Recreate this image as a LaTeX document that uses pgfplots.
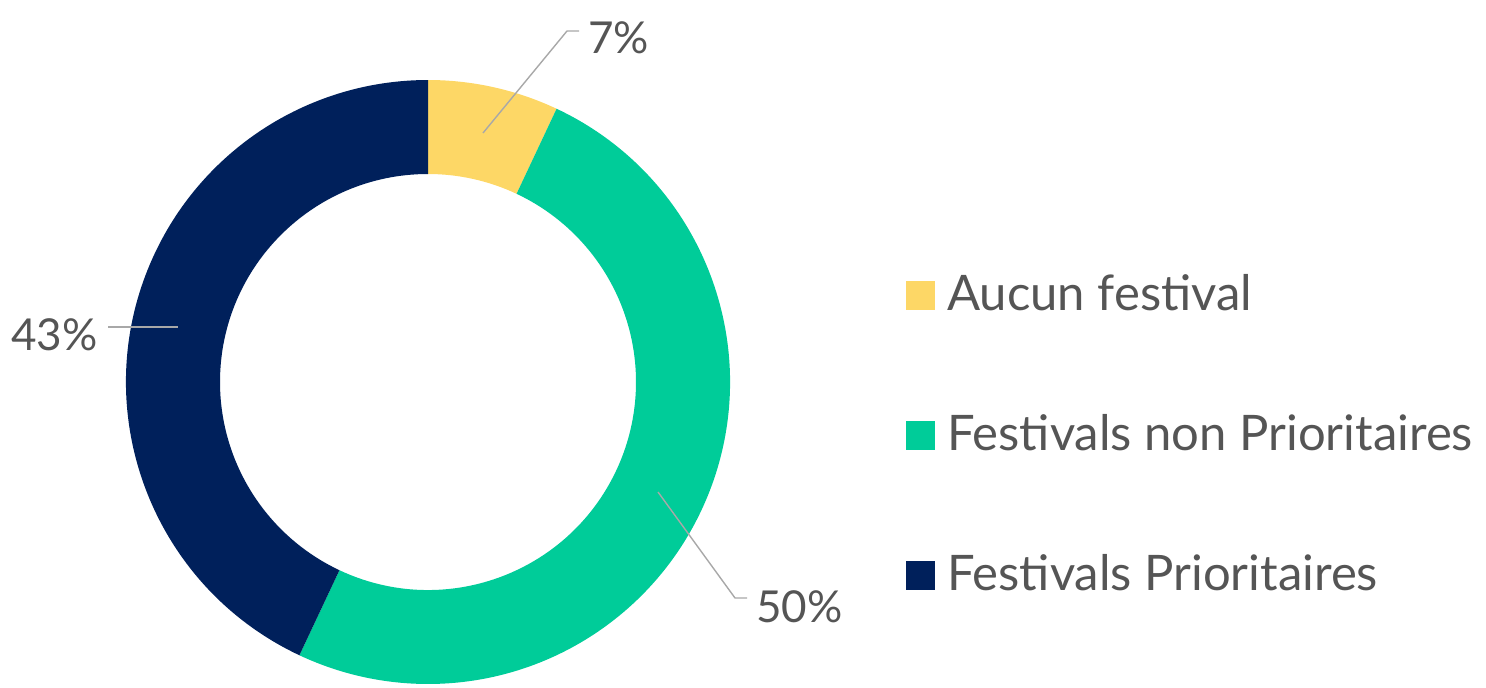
\documentclass[border=0pt]{standalone}
\usepackage{pgfplots}
\pgfplotsset{compat=1.18}
\usepackage{pgfplotstable}
\usepackage{fontspec}
\setmainfont{Lato}

\definecolor{cAucun}{HTML}{FDD766}
\definecolor{cNon}{HTML}{00CC99}
\definecolor{cPrio}{HTML}{00205B}
\definecolor{txt}{HTML}{555555}
\definecolor{lead}{HTML}{A8A8A8}

% shares in percent, clockwise from 12 o'clock
\pgfplotstableread{
share
7
50
43
}\shares

\begin{document}
\begin{tikzpicture}
\pgfplotstablegetelem{0}{share}\of\shares \let\sA\pgfplotsretval
\pgfplotstablegetelem{1}{share}\of\shares \let\sB\pgfplotsretval
\pgfplotstablegetelem{2}{share}\of\shares \let\sC\pgfplotsretval
\pgfmathsetmacro\aZero{90}
\pgfmathsetmacro\aOne{\aZero-3.6*\sA}
\pgfmathsetmacro\aTwo{\aOne-3.6*\sB}
\pgfmathsetmacro\aThree{\aTwo-3.6*\sC}
\def\Ro{151pt}\def\Ri{104pt}
\begin{axis}[
  width=743pt, height=342pt, scale only axis,
  xmin=0, xmax=1486, ymin=0, ymax=684,
  hide axis, clip=false,
  legend cell align=left,
  legend image code/.code={\fill[#1] (0pt,-7pt) rectangle (14pt,7pt); \path (20pt,0pt);},
  legend style={at={(axis cs:906,414)}, anchor=north west, draw=none, fill=none,
    inner sep=0pt, row sep=45pt,
    nodes={inner sep=0pt, text height=20pt, text depth=5pt},
    font=\fontsize{24.5}{30}\selectfont\color{txt}},
]
\path (axis cs:0,0) rectangle (axis cs:1486,684);
% donut wedges
\fill[cAucun] ([shift={(\aZero:\Ro)}]axis cs:428,302) arc[start angle=\aZero, end angle=\aOne, radius=\Ro]
  -- ([shift={(\aOne:\Ri)}]axis cs:428,302) arc[start angle=\aOne, end angle=\aZero, radius=\Ri] -- cycle;
\fill[cNon] ([shift={(\aOne:\Ro)}]axis cs:428,302) arc[start angle=\aOne, end angle=\aTwo, radius=\Ro]
  -- ([shift={(\aTwo:\Ri)}]axis cs:428,302) arc[start angle=\aTwo, end angle=\aOne, radius=\Ri] -- cycle;
\fill[cPrio] ([shift={(\aTwo:\Ro)}]axis cs:428,302) arc[start angle=\aTwo, end angle=\aThree, radius=\Ro]
  -- ([shift={(\aThree:\Ri)}]axis cs:428,302) arc[start angle=\aThree, end angle=\aTwo, radius=\Ri] -- cycle;
% leader lines and labels
\draw[lead, line width=0.7pt] (axis cs:483,551) -- (axis cs:567,653) -- (axis cs:579,653);
\draw[lead, line width=0.7pt] (axis cs:108,357) -- (axis cs:178,357);
\draw[lead, line width=0.7pt] (axis cs:658,192) -- (axis cs:735,86) -- (axis cs:747,86);
\node[anchor=base west, inner sep=0pt, text=txt, font=\fontsize{22}{27}\selectfont] at (axis cs:588,631) {\sA\%};
\node[anchor=base east, inner sep=0pt, text=txt, font=\fontsize{22}{27}\selectfont] at (axis cs:98,334) {\sC\%};
\node[anchor=base west, inner sep=0pt, text=txt, font=\fontsize{22}{27}\selectfont] at (axis cs:756,62) {\sB\%};
\addlegendimage{cAucun}
\addlegendentry{Aucun festival}
\addlegendimage{cNon}
\addlegendentry{Festivals non Prioritaires}
\addlegendimage{cPrio}
\addlegendentry{Festivals Prioritaires}
\end{axis}
\end{tikzpicture}
\end{document}
